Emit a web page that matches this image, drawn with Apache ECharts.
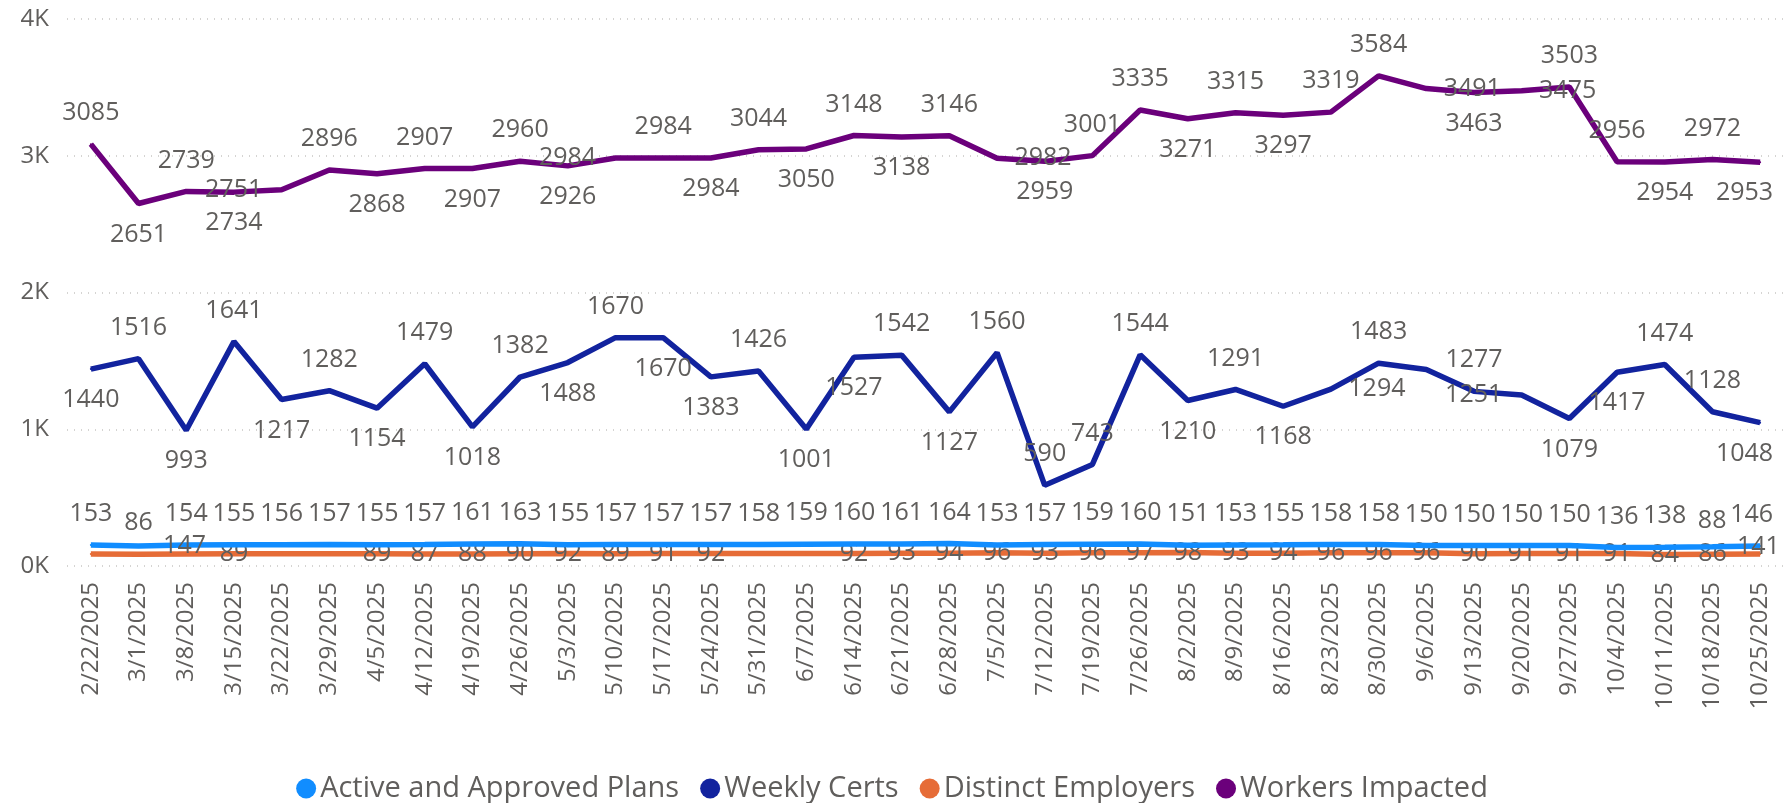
<!DOCTYPE html>
<html><head><meta charset="utf-8">
<script src="https://cdn.jsdelivr.net/npm/echarts@6/dist/echarts.min.js"></script>
<style>html,body{margin:0;padding:0;background:#fff}#c{width:1784px;height:803px}</style>
</head><body><div id="c"></div>
<script>
const categories = ['2/22/2025','3/1/2025','3/8/2025','3/15/2025','3/22/2025','3/29/2025','4/5/2025','4/12/2025','4/19/2025','4/26/2025','5/3/2025','5/10/2025','5/17/2025','5/24/2025','5/31/2025','6/7/2025','6/14/2025','6/21/2025','6/28/2025','7/5/2025','7/12/2025','7/19/2025','7/26/2025','8/2/2025','8/9/2025','8/16/2025','8/23/2025','8/30/2025','9/6/2025','9/13/2025','9/20/2025','9/27/2025','10/4/2025','10/11/2025','10/18/2025','10/25/2025'];
const activePlans = [153,147,154,155,156,157,155,157,161,163,155,157,157,157,158,159,160,161,164,153,157,159,160,151,153,155,158,158,150,150,150,150,136,138,141,146];
const weeklyCerts = [1440,1516,993,1641,1217,1282,1154,1479,1018,1382,1488,1670,1670,1383,1426,1001,1527,1542,1127,1560,590,743,1544,1210,1291,1168,1294,1483,1437,1277,1251,1079,1417,1474,1128,1048];
const distinctEmployers = [87,86,88,89,89,89,89,87,88,90,92,89,91,92,92,92,92,93,94,96,93,96,97,98,93,94,96,96,96,90,91,91,91,84,86,88];
const workersImpacted = [3085,2651,2739,2734,2751,2896,2868,2907,2907,2960,2926,2984,2984,2984,3044,3050,3148,3138,3146,2982,2959,3001,3335,3271,3315,3297,3319,3584,3491,3463,3475,3503,2956,2954,2972,2953];
const yTicks = [0,1000,2000,3000,4000];
const seriesNames = ['Active and Approved Plans','Weekly Certs','Distinct Employers','Workers Impacted'];

// label placement per point: A above, B below, L left, R right, C centred, X hidden, Q above-left
const activeLabelPlace   = 'ARAAAA AAAAAA AAAAAA AAAAAA AAAAAA AAAARA';
const certsLabelPlace    = 'BABABA BABABA BBABBA BAAAAB ABRAXA LBBAAB';
const employerLabelPlace = 'XAXCXX CCCCCC CCXXCC CCCCCC CCCCCC CCCCCQ';
const workersLabelPlace  = 'ABABLA BABABL ABABAB ARBAAB ABAARB RAABAB';

const LABEL_COLOR = '#605E5C';
const FONT = "'Segoe UI','Open Sans','Noto Sans',sans-serif";
const OFFSETS = {A:[0,-31],B:[0,31],L:[-48,0],R:[46,0],C:[0,0],Q:[-48,-33]};
function buildData(values, placeStr) {
  const places = placeStr.replace(/ /g,'');
  const last = values.length - 1;
  return values.map((v,i)=>{
    const p = places[i];
    if (p === 'X') return {value:v,label:{show:false}};
    const o = OFFSETS[p];
    const lab = {show:true,position:[1+o[0],1+o[1]],align:'center',verticalAlign:'middle'};
    if (i === last && (p === 'A' || p === 'B')) { lab.position = [1+13,1+o[1]]; lab.align = 'right'; }
    return {value:v,label:lab};
  });
}
const colors = ['#118DFF','#12239E','#E66C37','#6B007B'];
const datas = [
  buildData(activePlans, activeLabelPlace),
  buildData(weeklyCerts, certsLabelPlace),
  buildData(distinctEmployers, employerLabelPlace),
  buildData(workersImpacted, workersLabelPlace)
];
const chart = echarts.init(document.getElementById('c'), null, {renderer:'canvas'});
chart.setOption({
  animation:false,
  color:colors,
  textStyle:{fontFamily:FONT},
  grid:{left:67,right:-2,top:19,bottom:237,containLabel:false},
  legend:{
    top:769,left:'center',
    data:seriesNames.map(n=>({name:n,icon:'circle'})),
    itemWidth:20,itemHeight:20,itemGap:21,
    textStyle:{fontSize:29,color:'#605E5C',fontFamily:FONT,padding:[0,0,0,-1]}
  },
  xAxis:{
    type:'category',data:categories,boundaryGap:true,
    axisLine:{show:false},axisTick:{show:false},
    axisLabel:{rotate:90,interval:0,fontSize:24,color:'#605E5C',margin:16,fontFamily:FONT}
  },
  yAxis:{
    type:'value',min:yTicks[0],max:yTicks[yTicks.length-1],interval:1000,
    axisLine:{show:false},axisTick:{show:false},
    axisLabel:{fontSize:24,color:'#605E5C',margin:18,formatter:v=>(v/1000)+'K',fontFamily:FONT},
    splitLine:{show:true,lineStyle:{color:'#C8C6C4',width:1.5,type:[1,6]}}
  },
  series:seriesNames.map((n,k)=>({
    name:n,type:'line',data:datas[k],
    symbol:'circle',symbolSize:2,showSymbol:true,
    lineStyle:{width:5.5,color:colors[k]},
    itemStyle:{color:colors[k]},
    label:{show:true,fontSize:25,color:LABEL_COLOR,fontFamily:FONT},
    labelLayout:{hideOverlap:false},
    z:k===0?4:3
  }))
});
</script></body></html>
